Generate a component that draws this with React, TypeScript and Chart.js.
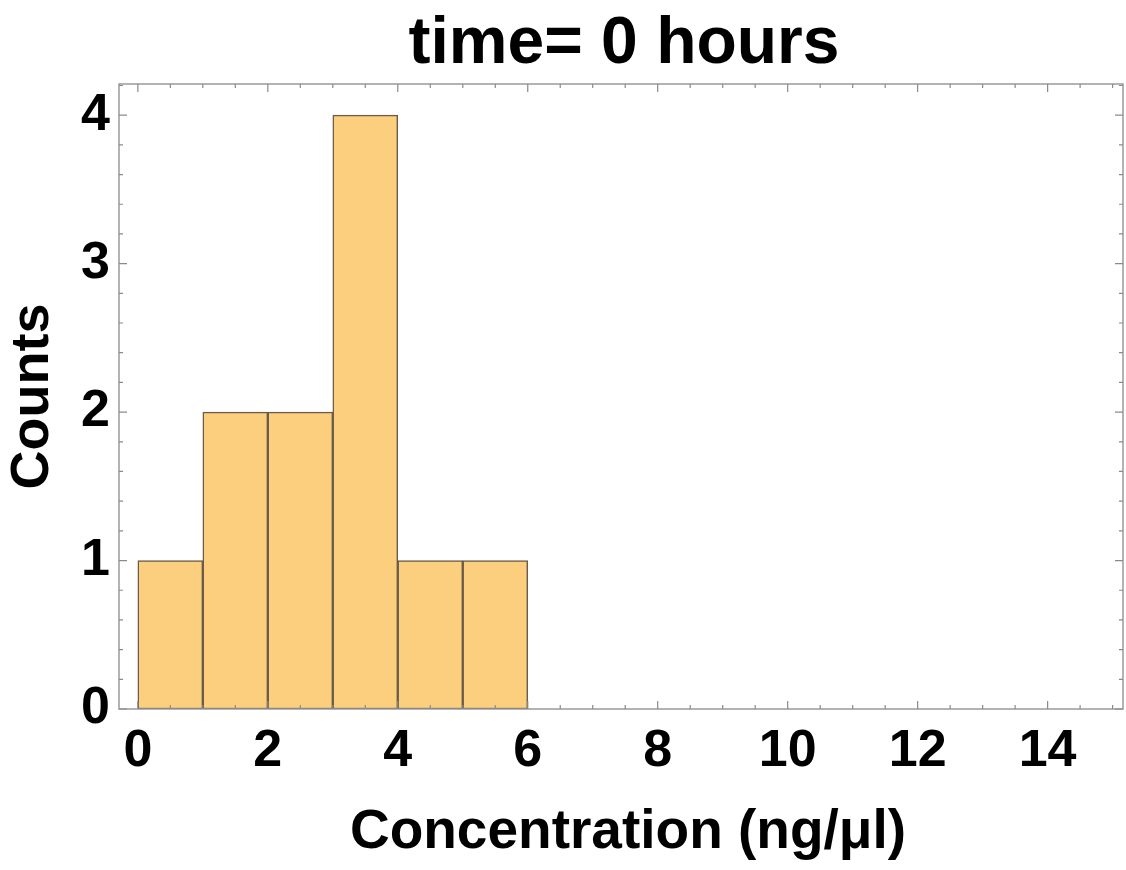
import React, { useEffect, useRef } from "react";
import { Chart, registerables } from "chart.js";

Chart.register(...registerables);

// Histogram data (bin edges and counts)
const BIN_EDGES = [0, 1, 2, 3, 4, 5, 6];
const COUNTS = [1, 2, 2, 4, 1, 1];

// Axis ticks
const X_TICKS = [0, 2, 4, 6, 8, 10, 12, 14];
const Y_TICKS = [0, 1, 2, 3, 4];
const X_MINOR_STEP = 0.5;
const Y_MINOR_STEP = 0.2;

const TITLE = "time= 0 hours";
const X_LABEL = "Concentration (ng/μl)";
const Y_LABEL = "Counts";

const X_MIN = -0.29;
const X_MAX = 15.16;
const Y_MIN = 0;
const Y_MAX = 4.21;

const FONT = "'Liberation Sans', Arial, Helvetica, sans-serif";
const TITLE_SIZE = 66;
const XLABEL_SIZE = 55;

const framePlugin = {
  id: "frameTicks",
  afterDraw(chart: any) {
    const { ctx, chartArea } = chart;
    const xs = chart.scales.x;
    const ys = chart.scales.y;
    const { left, right, top, bottom } = chartArea;
    ctx.save();
    // title centred over the plot area
    ctx.fillStyle = "#000";
    ctx.font = `bold ${TITLE_SIZE}px ${FONT}`;
    ctx.textAlign = "center";
    ctx.textBaseline = "alphabetic";
    ctx.fillText(TITLE, (left + right) / 2 + 3, 63);
    // x axis label
    ctx.font = `bold ${XLABEL_SIZE}px ${FONT}`;
    ctx.fillText(X_LABEL, (left + right) / 2 + 7, 848);

    ctx.strokeStyle = "#9a9a9a";
    ctx.lineWidth = 1.5;
    ctx.strokeRect(left, top, right - left, bottom - top);
    ctx.lineWidth = 1.2;
    ctx.strokeStyle = "#8a8a8a";
    const major = 8;
    const minor = 4;
    for (let i = 0; i * X_MINOR_STEP <= X_MAX; i++) {
      const v = Math.round(i * X_MINOR_STEP * 1000) / 1000;
      const isMajor = X_TICKS.includes(v);
      const len = isMajor ? major : minor;
      const px = xs.getPixelForValue(v);
      if (px < left || px > right) continue;
      ctx.beginPath();
      ctx.moveTo(px, bottom);
      ctx.lineTo(px, bottom - len);
      ctx.moveTo(px, top);
      ctx.lineTo(px, top + len);
      ctx.stroke();
    }
    for (let i = 0; i * Y_MINOR_STEP <= Y_MAX + 1e-9; i++) {
      const v = Math.round(i * Y_MINOR_STEP * 1000) / 1000;
      const isMajor = Y_TICKS.includes(v);
      const len = isMajor ? major : minor;
      const py = ys.getPixelForValue(v);
      if (py < top - 0.5 || py > bottom + 0.5) continue;
      ctx.beginPath();
      ctx.moveTo(left, py);
      ctx.lineTo(left + len, py);
      ctx.moveTo(right, py);
      ctx.lineTo(right - len, py);
      ctx.stroke();
    }
    ctx.restore();
  },
};

export default function App() {
  const ref = useRef<HTMLCanvasElement | null>(null);

  useEffect(() => {
    if (!ref.current) return;
    const data = COUNTS.map((c, i) => ({
      x: (BIN_EDGES[i] + BIN_EDGES[i + 1]) / 2,
      y: c,
    }));
    const chart = new Chart(ref.current, {
      type: "bar",
      data: {
        datasets: [
          {
            data: data as any,
            backgroundColor: "#fccf7e",
            borderColor: "#6a5c48",
            borderWidth: 1.5,
            borderSkipped: false,
            barPercentage: 1,
            categoryPercentage: 1,
          },
        ],
      },
      options: {
        animation: false,
        responsive: false,
        layout: { padding: { left: 0, right: 3, top: 0, bottom: 0 } },
        plugins: {
          legend: { display: false },
          tooltip: { enabled: false },
          title: {
            display: true,
            text: TITLE,
            color: "rgba(0,0,0,0)",
            font: { family: FONT, size: 66, weight: "bold" },
            padding: { top: 0, bottom: 4.8 },
          },
        },
        scales: {
          x: {
            type: "linear",
            min: X_MIN,
            max: X_MAX,
            offset: false,
            grid: { display: false, drawTicks: false },
            border: { display: false },
            afterBuildTicks: (scale: any) => {
              scale.ticks = X_TICKS.map((v) => ({ value: v }));
            },
            afterFit: (scale: any) => {
              scale.height = 161;
            },
            ticks: {
              color: "#000",
              padding: 11,
              maxRotation: 0,
              autoSkip: false,
              font: { family: FONT, size: 52, weight: "bold" },
              callback: (v: any) => String(v),
            },
            title: {
              display: false,
              text: X_LABEL,
            },
          },
          y: {
            type: "linear",
            min: Y_MIN,
            max: Y_MAX,
            grid: { display: false, drawTicks: false },
            border: { display: false },
            afterBuildTicks: (scale: any) => {
              scale.ticks = Y_TICKS.map((v) => ({ value: v }));
            },
            afterFit: (scale: any) => {
              scale.width = 119;
            },
            ticks: {
              color: "#000",
              padding: 9,
              autoSkip: false,
              font: { family: FONT, size: 52, weight: "bold" },
              callback: (v: any) => String(v),
            },
            title: {
              display: true,
              text: Y_LABEL,
              color: "#000",
              font: { family: FONT, size: 54, weight: "bold" },
              padding: { top: 1, bottom: 0 },
            },
          },
        },
      },
      plugins: [framePlugin],
    });
    return () => chart.destroy();
  }, []);

  return (
    <div style={{ position: "absolute", left: 0, top: 0, width: 1126, height: 870, background: "#fff" }}>
      <canvas ref={ref} width={1126} height={870} style={{ width: 1126, height: 870, display: "block" }} />
    </div>
  );
}
